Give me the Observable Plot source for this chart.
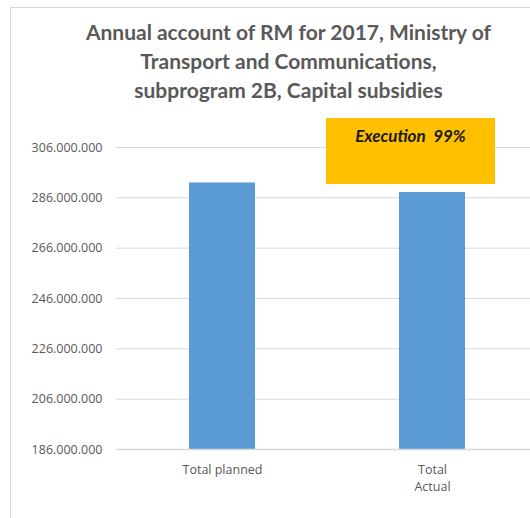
<!DOCTYPE html>
<html>
<head>
<meta charset="utf-8">
<script src="https://cdn.jsdelivr.net/npm/d3@7"></script>
<script src="https://cdn.jsdelivr.net/npm/@observablehq/plot@0.6"></script>
<style>
  html, body { margin: 0; padding: 0; background: #fff; overflow: hidden; width: 530px; height: 518px; }
  #frame { position: absolute; left: 10px; top: 7px; width: 600px; height: 600px;
           border-left: 1px solid #d9d9d9; border-top: 1px solid #d9d9d9; }
  #title { position: absolute; left: 0; top: 17px; width: 577px; text-align: center;
           font-family: Lato, sans-serif; font-weight: bold; font-size: 21px; line-height: 29px; color: #595959; }
  #chart { position: absolute; left: 0; top: 110px; width: 540px; }
  #chart svg { max-width: none !important; }
  #note { position: absolute; left: 326px; top: 118px; width: 169px; height: 66px; background: #FFC000;
          font-family: Lato, sans-serif; font-weight: bold; font-style: italic; font-size: 17px; color: #1a1a1a;
          text-align: center; box-sizing: border-box; padding-top: 7px; white-space: pre; }
</style>
</head>
<body>
<div id="frame"></div>
<div id="title">Annual account of RM for 2017, Ministry of<br>Transport and Communications,<br>subprogram 2B, Capital subsidies</div>
<div id="chart"></div>
<div id="note"></div>
<script>
const categories = ["Total planned", "Total Actual"];
const categoryLabels = ["Total planned", "Total\nActual"];
const values = [291900000, 288100000];
const yTicks = [186000000, 206000000, 226000000, 246000000, 266000000, 286000000, 306000000];
const noteLabel = "Execution";

const data = categories.map((c, i) => ({category: c, value: values[i]}));
const fmt = d => d3.format(",")(d).replace(/,/g, ".");
const labelOf = new Map(categories.map((c, i) => [c, categoryLabels[i]]));

const chart = Plot.plot({
  width: 540,
  height: 408,
  marginLeft: 116,
  marginRight: 2,
  marginTop: 37,
  marginBottom: 69,
  style: {fontFamily: "'Open Sans', sans-serif", fontSize: "12.5px", color: "#595959", background: "transparent", maxWidth: "none"},
  x: {domain: categories, paddingInner: 0.687, paddingOuter: 0.3436, label: null},
  y: {domain: [yTicks[0], yTicks[yTicks.length - 1]], label: null},
  marks: [
    Plot.gridY(yTicks, {stroke: "#d9d9d9", strokeOpacity: 1, strokeWidth: 1}),
    Plot.barY(data, {x: "category", y1: yTicks[0], y2: "value", fill: "#5B9BD5"}),
    Plot.ruleY([yTicks[0]], {stroke: "#d9d9d9", strokeWidth: 1.5}),
    Plot.axisY(yTicks, {tickSize: 0, tickPadding: 14, tickFormat: fmt, fill: "#595959", label: null}),
    Plot.axisX({tickSize: 0, tickPadding: 13, tickFormat: d => labelOf.get(d), lineHeight: 1.35, fill: "#595959", label: null})
  ]
});
document.getElementById("chart").appendChild(chart);
document.getElementById("note").textContent = noteLabel + "  " + Math.round(values[1] / values[0] * 100) + "%";
</script>
</body>
</html>
